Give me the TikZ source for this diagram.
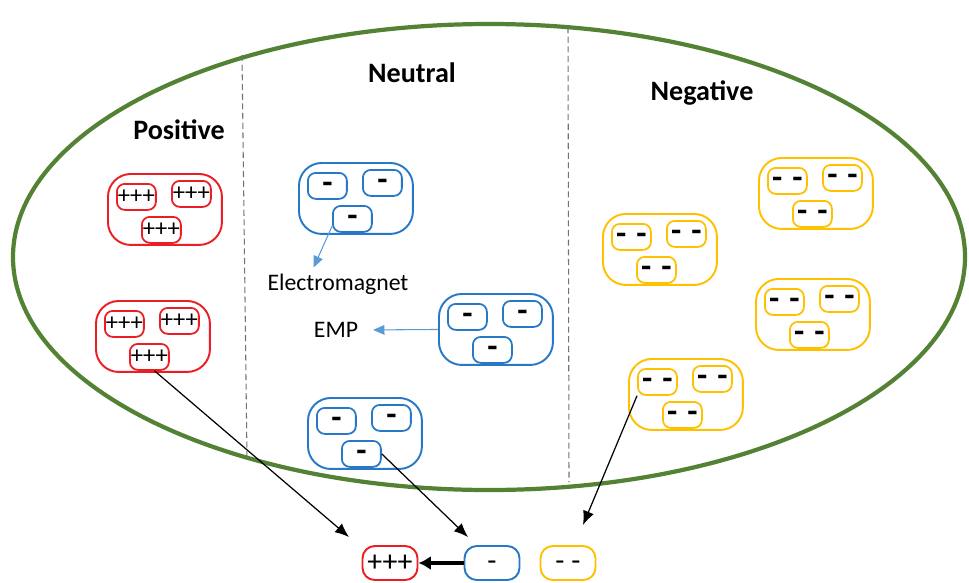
\documentclass[tikz,border=0pt]{standalone}
\usepackage{fontspec}
\setmainfont{Carlito}
\usepackage{tikz}
\usetikzlibrary{arrows.meta, positioning}
\definecolor{ringgreen}{RGB}{84,130,53}
\definecolor{posred}{RGB}{235,30,35}
\definecolor{neublue}{RGB}{40,120,200}
\definecolor{neggold}{RGB}{255,192,0}
\definecolor{fieldblue}{RGB}{91,155,213}

% one cluster: name, top left corner, colour, charge text
\newcommand{\chargecluster}[4]{%
    \node[cluster, draw=#3, anchor=north west] (#1) at (#2) {};
    \node[charge, draw=#3, anchor=north west] (#1_a) at ([shift={(9,10)}]#1.north west) {#4};
    \node[charge, draw=#3, anchor=north west] (#1_b) at ([shift={(64,7)}]#1.north west) {#4};
    \node[charge, draw=#3, anchor=north west] (#1_c) at ([shift={(34,43)}]#1.north west) {#4};
}
% a single bold minus, set at the middle of its box
\newcommand{\minusmark}{\raisebox{-4.6pt}[0pt][0pt]{\fontsize{19}{19}\selectfont\bfseries -}}

\begin{document}
\begin{tikzpicture}[
        x=0.02cm, y=-0.02cm,
        cluster/.style={rectangle, rounded corners=13pt, line width=1.1pt, minimum width=2.28cm, minimum height=1.42cm, inner sep=0pt},
        charge/.style={rectangle, rounded corners=4.5pt, line width=1pt, minimum width=0.78cm, minimum height=0.52cm, inner sep=0pt, font=\fontsize{14}{14}\selectfont},
        outbox/.style={rectangle, rounded corners=7pt, line width=1.1pt, minimum width=1.1cm, minimum height=0.68cm, inner sep=0pt, font=\fontsize{17}{17}\selectfont},
        title/.style={font=\fontsize{16}{16}\selectfont\bfseries},
        caption/.style={font=\fontsize{13.5}{13.5}\selectfont},
        ring/.style={draw=ringgreen, line width=2.4pt},
        divider/.style={draw=black!55, line width=0.6pt, dash pattern=on 3.5pt off 2pt},
        line/.style={draw, line width=0.7pt, -{Latex[length=8pt, width=6.5pt]}},
        field/.style={draw=fieldblue, line width=0.6pt, -{Triangle[length=6.5pt, width=5.5pt]}}
    ]
    \useasboundingbox (0,0) rectangle (969,582);

    % Huelle und Trennlinien
    \draw[ring] (489,257) ellipse [x radius=476, y radius=233];
    \draw[divider] (242,55) -- (247,459);
    \draw[divider] (568,27) -- (569,482);

    \node[title] (pos_label) at (179,130) {Positive};
    \node[title] (neu_label) at (412,73) {Neutral};
    \node[title] (neg_label) at (702,93) {Negative};

    % positiv
    \chargecluster{pos_top}{107,173}{posred}{+++}
    \chargecluster{pos_bot}{95,300}{posred}{+++}

    % neutral
    \chargecluster{neu_top}{298,162}{neublue}{\minusmark}
    \chargecluster{neu_mid}{438,293}{neublue}{\minusmark}
    \chargecluster{neu_bot}{307,397}{neublue}{\minusmark}

    \node[caption] (em_label) at (338,284) {Electromagnet};
    \node[caption] (emp_label) at (336,330) {EMP};

    % negativ
    \chargecluster{neg_a}{758,157}{neggold}{\minusmark\hspace{0.4em}\minusmark}
    \chargecluster{neg_b}{602,213}{neggold}{\minusmark\hspace{0.4em}\minusmark}
    \chargecluster{neg_c}{755,278}{neggold}{\minusmark\hspace{0.4em}\minusmark}
    \chargecluster{neg_d}{628,358}{neggold}{\minusmark\hspace{0.4em}\minusmark}

    % Ergebnis unten
    \node[outbox, draw=posred] (out_pos) at (390,563) {+++};
    \node[outbox, draw=neublue] (out_neu) at (492,563) {\raisebox{-4pt}[0pt][0pt]{-}};
    \node[outbox, draw=neggold] (out_neg) at (568,563) {\raisebox{-4pt}[0pt][0pt]{- -}};

    \coordinate (pos_end) at (349,537);
    \coordinate (neu_end) at (468,537);
    \coordinate (neg_end) at (583,525);

    % Verbindungen
    \path [field] (neu_top_c.200) -- (em_label.146);
    \path [field, shorten >=5pt] (neu_mid.west) -- (emp_label.east);

    \path [line] (pos_bot_c.290) -- (pos_end);
    \path [line] (neu_bot_c.east) -- (neu_end);
    \path [line] (neg_d_a.south west) -- (neg_end);
    \path [line, line width=1.8pt, -{Latex[length=7pt, width=8pt]}] (out_neu) -- (out_pos);

\end{tikzpicture}
\end{document}
